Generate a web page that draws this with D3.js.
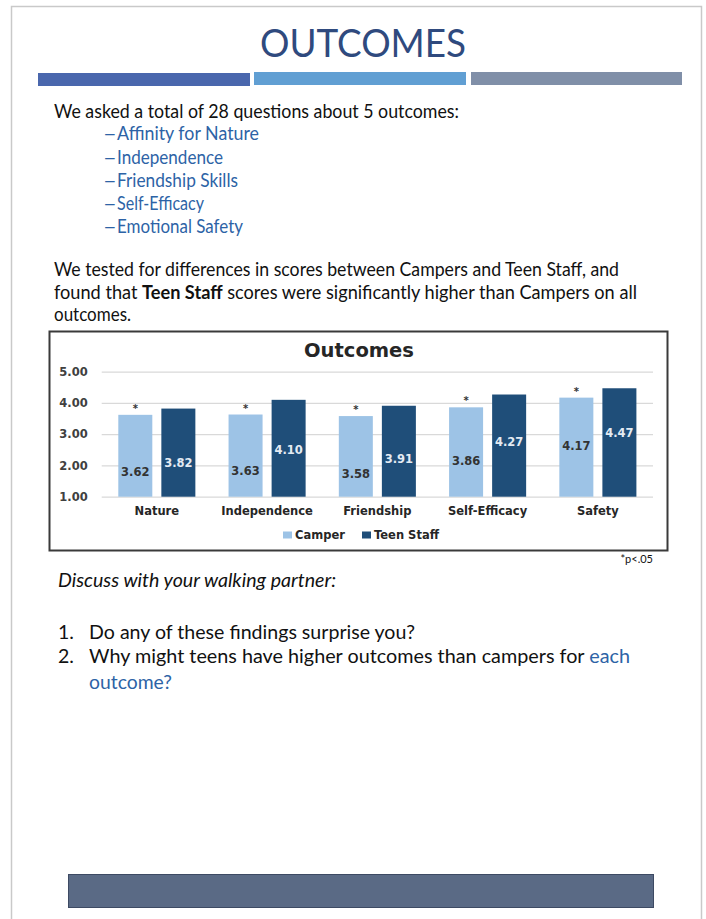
<!DOCTYPE html>
<html>
<head>
<meta charset="utf-8">
<script src="https://cdn.jsdelivr.net/npm/d3@7"></script>
<style>
  html, body { margin: 0; padding: 0; background: #fff; }
  svg { display: block; }
  .body-text { font-family: Lato, "Open Sans", sans-serif; }
  .chart-text { font-family: "DejaVu Sans", Verdana, sans-serif; font-weight: bold; }
</style>
</head>
<body>
<div id="slide"></div>
<script>
// chart data
const categories = ["Nature", "Independence", "Friendship", "Self-Efficacy", "Safety"];
const camper = [3.62, 3.63, 3.58, 3.86, 4.17];
const teenStaff = [3.82, 4.10, 3.91, 4.27, 4.47];
const seriesNames = ["Camper", "Teen Staff"];
const yTicks = [1, 2, 3, 4, 5];

// slide text
const outcomesList = ["Affinity for Nature", "Independence", "Friendship Skills", "Self-Efficacy", "Emotional Safety"];

document.addEventListener("DOMContentLoaded", function() {
    const W = 706, H = 919;
    const svg = d3.select("#slide")
        .append("svg")
        .attr("width", W)
        .attr("height", H);

    // page frame
    svg.append("rect")
        .attr("x", 11.5).attr("y", 6.5)
        .attr("width", 690).attr("height", 930)
        .attr("fill", "#fff")
        .attr("stroke", "#c9c9c9")
        .attr("stroke-width", 1.5);

    // title + header stripes
    svg.append("text")
        .attr("class", "body-text")
        .attr("x", 260).attr("y", 57)
        .attr("textLength", 206).attr("lengthAdjust", "spacingAndGlyphs")
        .style("font-size", "38px")
        .style("fill", "#2f4a7e")
        .text("OUTCOMES");

    const stripes = [
        { x: 38, y: 73, w: 212, c: "#4a67ad" },
        { x: 254, y: 72, w: 212, c: "#619fd3" },
        { x: 471, y: 72, w: 211, c: "#808fa8" }
    ];
    svg.selectAll(".stripe").data(stripes).enter().append("rect")
        .attr("x", d => d.x).attr("y", d => d.y)
        .attr("width", d => d.w).attr("height", 13)
        .attr("fill", d => d.c);

    function line(x, y, len, size, txt, color) {
        const t = svg.append("text")
            .attr("class", "body-text")
            .attr("x", x).attr("y", y)
            .style("font-size", size + "px")
            .style("fill", color || "#111");
        if (len) t.attr("textLength", len).attr("lengthAdjust", "spacingAndGlyphs");
        if (txt) t.text(txt);
        return t;
    }

    line(54, 118, 405, 18.5, "We asked a total of 28 questions about 5 outcomes:");

    const listEnds = [259, 223, 238, 204, 243];
    const listY = [140, 164, 187, 210, 233];
    outcomesList.forEach((o, i) => {
        svg.append("text")
            .attr("class", "body-text")
            .attr("transform", `translate(103, ${listY[i]}) scale(1.28, 1)`)
            .style("font-size", "18.5px")
            .style("fill", "#2d63a6")
            .text("\u2013");
        line(117, listY[i], listEnds[i] - 117, 18.5, o, "#2d63a6");
    });

    line(54, 276, 565, 18.5, "We tested for differences in scores between Campers and Teen Staff, and");
    const l2 = line(54, 298.5, 583, 18.5);
    l2.append("tspan").text("found that ");
    l2.append("tspan").style("font-weight", "bold").text("Teen Staff");
    l2.append("tspan").text(" scores were significantly higher than Campers on all");
    line(54, 321, 77, 18.5, "outcomes.");

    // ---- chart ----
    svg.append("rect")
        .attr("x", 49.5).attr("y", 331.5)
        .attr("width", 618).attr("height", 219)
        .attr("fill", "#fff")
        .attr("stroke", "#3a3a3a")
        .attr("stroke-width", 2);

    const plotLeft = 101.7, plotRight = 653;

    const y = d3.scaleLinear()
        .domain([1, 5])
        .range([496.7, 371.7]);

    const x = d3.scaleBand()
        .domain(categories)
        .range([plotLeft, plotRight])
        .padding(0);

    const xs = d3.scaleBand()
        .domain(seriesNames)
        .range([16.6, x.bandwidth() - 16.6])
        .paddingInner(0.21);

    const color = d3.scaleOrdinal()
        .domain(seriesNames)
        .range(["#9dc3e6", "#1f4e79"]);

    const labelColor = d3.scaleOrdinal()
        .domain(seriesNames)
        .range(["#333333", "#e4ebf3"]);

    // the source's data labels drift lower than mid-bar; follow that
    const labelPos = d3.scaleLinear()
        .domain([3.5, 4.5])
        .range([y(1.62), y(3.10)]);

    const yAxis = svg.append("g")
        .attr("class", "chart-text")
        .attr("transform", `translate(${plotLeft}, 0)`)
        .call(d3.axisLeft(y)
            .tickValues(yTicks)
            .tickFormat(d3.format(".2f"))
            .tickSize(-(plotRight - plotLeft))
            .tickPadding(14));
    yAxis.select(".domain").remove();
    yAxis.selectAll(".tick line").attr("stroke", "#d9d9d9").attr("stroke-width", 1.2);
    yAxis.selectAll(".tick text")
        .style("font-size", "11.5px")
        .style("font-family", "'DejaVu Sans', Verdana, sans-serif")
        .style("font-weight", "bold")
        .attr("fill", "#404040");

    const rows = categories.map((c, i) => ({
        cat: c,
        vals: [{ s: seriesNames[0], v: camper[i] }, { s: seriesNames[1], v: teenStaff[i] }]
    }));

    const groups = svg.selectAll(".cat").data(rows).enter().append("g")
        .attr("transform", d => `translate(${x(d.cat)}, 0)`);

    groups.selectAll("rect").data(d => d.vals).enter().append("rect")
        .attr("x", d => xs(d.s))
        .attr("y", d => y(d.v))
        .attr("width", xs.bandwidth())
        .attr("height", d => y(1) - y(d.v))
        .attr("fill", d => color(d.s));

    groups.selectAll(".val").data(d => d.vals).enter().append("text")
        .attr("class", "chart-text")
        .attr("x", d => xs(d.s) + xs.bandwidth() / 2)
        .attr("y", d => labelPos(d.v))
        .attr("dy", "0.36em")
        .attr("text-anchor", "middle")
        .style("font-size", "11.5px")
        .style("fill", d => labelColor(d.s))
        .text(d => d3.format(".2f")(d.v));

    // significance marks above camper bars
    groups.append("text")
        .attr("x", xs(seriesNames[0]) + xs.bandwidth() / 2)
        .attr("y", d => y(d.vals[0].v) - 3)
        .attr("text-anchor", "middle")
        .style("font-family", "'DejaVu Sans', sans-serif")
        .style("font-weight", "bold")
        .style("font-size", "10px")
        .style("fill", "#333")
        .text("*");

    svg.selectAll(".xlab").data(categories).enter().append("text")
        .attr("class", "chart-text")
        .attr("x", d => x(d) + x.bandwidth() / 2)
        .attr("y", 515)
        .attr("text-anchor", "middle")
        .style("font-size", "11.5px")
        .style("fill", "#262626")
        .text(d => d);

    svg.append("text")
        .attr("class", "chart-text")
        .attr("x", 359).attr("y", 357)
        .attr("text-anchor", "middle")
        .style("font-size", "19.5px")
        .style("fill", "#262626")
        .text("Outcomes");

    const legend = svg.append("g")
        .attr("transform", "translate(283, 535)");
    const li = legend.selectAll("g").data(seriesNames).enter().append("g")
        .attr("transform", (d, i) => `translate(${i * 79}, 0)`);
    li.append("rect")
        .attr("x", 0).attr("y", -3.5)
        .attr("width", 9).attr("height", 7)
        .attr("fill", d => color(d));
    li.append("text")
        .attr("class", "chart-text")
        .attr("x", 12).attr("y", 0)
        .attr("dy", "0.36em")
        .style("font-size", "11.5px")
        .style("fill", "#262626")
        .text(d => d);

    // ---- below chart ----
    svg.append("text")
        .attr("class", "body-text")
        .attr("x", 653).attr("y", 563)
        .attr("text-anchor", "end")
        .style("font-size", "11px")
        .style("fill", "#111")
        .text("*p<.05");

    line(58, 587, 278, 19, "Discuss with your walking partner:").style("font-style", "italic");

    line(58, 639, null, 19.5, "1.");
    line(89, 639, 326, 19.5, "Do any of these findings surprise you?");
    line(58, 663, null, 19.5, "2.");
    const q2 = line(89, 663, 541, 19.5);
    q2.append("tspan").text("Why might teens have higher outcomes than campers for ");
    q2.append("tspan").style("fill", "#2d63a6").text("each");
    line(89, 689, 83, 19.5, "outcome?", "#2d63a6");

    // footer band
    svg.append("rect")
        .attr("x", 68.5).attr("y", 874.5)
        .attr("width", 585).attr("height", 33)
        .attr("fill", "#5a6a85")
        .attr("stroke", "#3d4a63")
        .attr("stroke-width", 1);
});
</script>
</body>
</html>
